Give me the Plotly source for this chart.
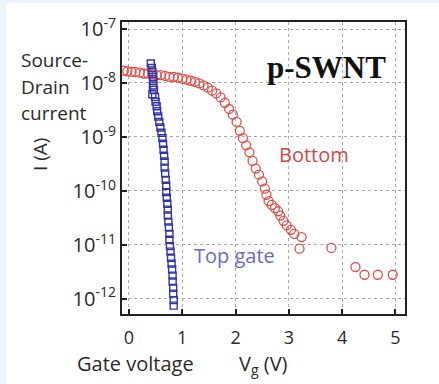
import plotly.graph_objects as go

# Bottom-gated device: gate voltage (V) and source-drain current (A)
bottom_vg = [-0.10, -0.03, 0.05, 0.12, 0.20, 0.28, 0.36, 0.44, 0.52, 0.60, 0.68, 0.76,
             0.84, 0.92, 1.00, 1.08, 1.16, 1.24, 1.32, 1.40, 1.48, 1.56, 1.64, 1.72,
             1.80, 1.88, 1.95, 2.02, 2.08, 2.14, 2.20, 2.26, 2.32, 2.38, 2.44, 2.50,
             2.55, 2.58, 2.62, 2.68, 2.74, 2.80, 2.84, 2.90, 2.96, 3.04, 3.10, 3.24,
             3.20, 3.80, 4.25, 4.42, 4.67, 4.95]
bottom_i = [1.7e-8, 1.65e-8, 1.6e-8, 1.6e-8, 1.55e-8, 1.5e-8, 1.5e-8, 1.45e-8, 1.4e-8,
            1.4e-8, 1.35e-8, 1.3e-8, 1.3e-8, 1.25e-8, 1.2e-8, 1.15e-8, 1.1e-8, 1.05e-8,
            9.8e-9, 9.0e-9, 8.2e-9, 7.2e-9, 6.4e-9, 5.4e-9, 4.3e-9, 3.3e-9, 2.6e-9,
            1.9e-9, 1.3e-9, 9.5e-10, 7.0e-10, 5.2e-10, 3.6e-10, 2.6e-10, 2.0e-10,
            1.5e-10, 1.1e-10, 8.5e-11, 6.5e-11, 5.5e-11, 4.8e-11, 4.2e-11, 3.5e-11,
            2.8e-11, 2.3e-11, 1.9e-11, 1.6e-11, 1.4e-11, 8.5e-12, 8.8e-12, 3.9e-12,
            2.8e-12, 2.8e-12, 2.8e-12]

# Top-gated device
top_vg = [0.41, 0.43, 0.44, 0.45, 0.46, 0.45, 0.47, 0.44, 0.49, 0.50, 0.52, 0.53, 0.55,
          0.57, 0.59, 0.61, 0.63, 0.64, 0.65, 0.66, 0.67, 0.67, 0.68, 0.69, 0.70, 0.70,
          0.71, 0.72, 0.73, 0.73, 0.74, 0.75, 0.76, 0.76, 0.77, 0.78, 0.79, 0.80, 0.81,
          0.82, 0.82, 0.83, 0.83, 0.84, 0.84]
top_i = [2.3e-8, 1.9e-8, 1.6e-8, 1.3e-8, 1.1e-8, 9e-9, 7.5e-9, 6.2e-9, 5.5e-9, 4.5e-9,
         3.7e-9, 3.0e-9, 2.4e-9, 1.9e-9, 1.5e-9, 1.2e-9, 9.5e-10, 7.5e-10, 5.8e-10,
         4.5e-10, 3.5e-10, 2.7e-10, 2.1e-10, 1.6e-10, 1.25e-10, 9.5e-11, 7.5e-11,
         5.8e-11, 4.5e-11, 3.5e-11, 2.7e-11, 2.1e-11, 1.6e-11, 1.25e-11, 9.5e-12,
         7.5e-12, 5.8e-12, 4.5e-12, 3.5e-12, 2.7e-12, 2.1e-12, 1.6e-12, 1.25e-12,
         9.5e-13, 7.5e-13]

y_tickvals = [1e-12, 1e-11, 1e-10, 1e-9, 1e-8, 1e-7]
y_ticktext = ["10<sup>-12</sup>", "10<sup>-11</sup>", "10<sup>-10</sup>",
              "10<sup>-9</sup>", "10<sup>-8</sup>", "10<sup>-7</sup>"]
x_tickvals = [0, 1, 2, 3, 4, 5]

W, H = 439, 384
L, R, T, B = 122, 34, 22, 70
PW, PH = W - L - R, H - T - B


def px(x):
    return (x - L) / PW


def py(y):
    return (H - B - y) / PH


SANS = "Open Sans"
RED = "#e0504a"
BLUE = "#3434a8"
INK = "#2a2a2a"

fig = go.Figure()
fig.add_trace(go.Scatter(
    x=bottom_vg, y=bottom_i, mode="markers",
    marker=dict(symbol="circle-open", size=9, color=RED, line=dict(width=1.3, color=RED)),
    showlegend=False))
fig.add_trace(go.Scatter(
    x=top_vg, y=top_i, mode="markers",
    marker=dict(symbol="square-open", size=7, color=BLUE, line=dict(width=1.4, color=BLUE)),
    showlegend=False))

ann = [
    dict(x=3.70, y=-7.72, xref="x", yref="y", text="<b>p-SWNT</b>",
         font=dict(family="Liberation Serif", size=31, color="#111")),
    dict(x=3.47, y=-9.33, xref="x", yref="y", text="Bottom",
         font=dict(family=SANS, size=20, color="#d04848")),
    dict(x=1.99, y=-11.19, xref="x", yref="y", text="Top gate",
         font=dict(family=SANS, size=20, color="#6a6ac8")),
    dict(x=px(19), y=py(60), xref="paper", yref="paper", text="Source-", xanchor="left",
         font=dict(family=SANS, size=19, color=INK)),
    dict(x=px(19), y=py(87), xref="paper", yref="paper", text="Drain", xanchor="left",
         font=dict(family=SANS, size=19, color=INK)),
    dict(x=px(19), y=py(113), xref="paper", yref="paper", text="current", xanchor="left",
         font=dict(family=SANS, size=19, color=INK)),
    dict(x=px(40), y=py(155), xref="paper", yref="paper", text="I (A)", textangle=-90,
         xanchor="center", font=dict(family=SANS, size=19, color=INK)),
    dict(x=px(135), y=py(363), xref="paper", yref="paper", text="Gate voltage",
         xanchor="center", font=dict(family=SANS, size=20, color=INK)),
    dict(x=px(263), y=py(364), xref="paper", yref="paper", text="V<sub>g</sub> (V)",
         xanchor="center", font=dict(family=SANS, size=20, color=INK)),
]
for a in ann:
    a["showarrow"] = False
    a["yanchor"] = "middle"
    a.setdefault("xanchor", "center")
    fig.add_annotation(**a)

# white card over the pale blue page edge
fig.add_shape(type="rect", xref="paper", yref="paper", layer="below",
              x0=px(6), x1=px(W + 5), y0=py(3), y1=py(H + 5),
              fillcolor="white", line=dict(width=0))

fig.update_layout(
    width=W, height=H,
    margin=dict(l=L, r=R, t=T, b=B),
    paper_bgcolor="#edf4fb", plot_bgcolor="white",
    font=dict(family=SANS, size=18, color=INK),
    xaxis=dict(range=[-0.13, 5.18], tickvals=x_tickvals, showline=True, linewidth=2,
               linecolor="#222", mirror=True, ticks="inside", ticklen=5, tickwidth=1.5,
               tickcolor="#222", showgrid=True, gridcolor="#aaa", griddash="dot",
               gridwidth=1, zeroline=False, ticklabelstandoff=6,
               tickfont=dict(size=18, color=INK)),
    yaxis=dict(type="log", range=[-12.28, -6.87], tickvals=y_tickvals, ticktext=y_ticktext,
               showline=True, linewidth=2, linecolor="#222", mirror=True, ticks="inside",
               ticklen=5, tickwidth=1.5, tickcolor="#222", showgrid=True, gridcolor="#aaa",
               griddash="dot", gridwidth=1, zeroline=False,
               tickfont=dict(size=20, color=INK)),
)

fig.write_html("out.html")
